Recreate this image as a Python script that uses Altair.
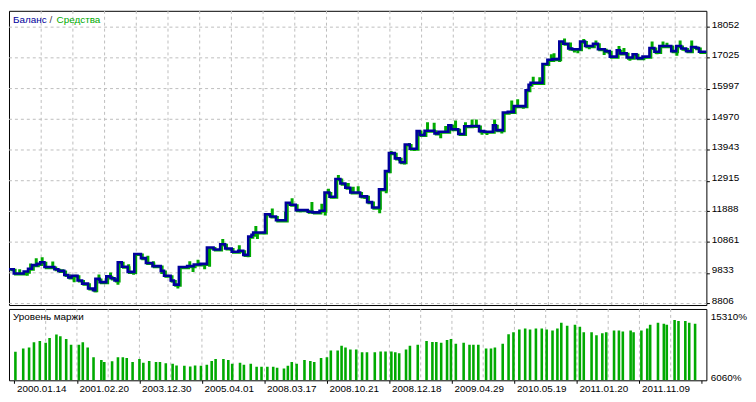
import altair as alt
import pandas as pd

# ---------------- data ----------------
# balance curve (trade index, balance)
bal_x = [0.3, 5.3, 15.3, 19.7, 23.7, 28.7, 32, 36.3, 46.3, 50.3, 56.3, 60.3, 63.7, 69.7, 74.3, 80.3,
         85.3, 87.7, 92, 98.7, 103, 107, 110.3, 114.3, 120.3, 127, 133.7, 138.7, 145.3, 153.7, 157,
         163.7, 167, 172, 180.3, 187, 193.7, 200.3, 207, 213.7, 218.7, 225.3, 232, 237, 242, 245.3,
         247, 259, 264, 270, 280, 284, 290, 302, 307, 314, 319, 324, 330, 335, 340, 345, 355, 362,
         367, 374, 380, 384, 390, 395, 400, 405, 412, 415, 420, 430, 434, 444, 447, 454, 460, 467,
         475, 480, 489, 492, 499, 504, 510, 522, 525, 527, 539, 544, 549, 556, 560, 565, 569, 577,
         582, 590, 595, 602, 607, 614, 617, 624, 630, 634, 640, 647, 652, 657, 669, 674, 679, 684,
         689, 694, 697, 705]
bal_v = [9952, 9811, 9875, 9971, 10090, 10132, 10187, 10026, 9952, 9898, 9760, 9682, 9737, 9577,
         9471, 9310, 9256, 9631, 9522, 9715, 9650, 9577, 10187, 10036, 9865, 10466, 10325, 10164,
         10058, 9898, 9737, 9577, 9438, 10026, 10058, 10113, 10132, 10678, 10614, 10787, 10646,
         10540, 10572, 10434, 11044, 11108, 11182, 11792, 11718, 11590, 12177, 12113, 11930, 11878,
         11856, 11911, 12521, 12379, 12970, 12819, 12681, 12521, 12392, 12199, 12016, 12626, 13236,
         13837, 13663, 13535, 14126, 13984, 14575, 14447, 14585, 14498, 14553, 14768, 14639, 14479,
         14736, 14745, 14575, 14553, 14768, 14607, 15195, 15217, 15410, 15943, 16126, 16190, 16822,
         16960, 16983, 17570, 17497, 17336, 17314, 17570, 17420, 17497, 17314, 17249, 17066, 17282,
         17176, 17034, 17143, 17015, 17066, 17355, 17227, 17420, 17249, 17420, 17336, 17249, 17387,
         17355, 17227, 17227]

# equity excursions (trade index, equity)
eq_x = [10.3, 18, 21.3, 27, 33, 43.7, 53.7, 60.3, 65.3, 67, 77, 87, 90.3, 97, 102, 109.5, 112,
        120.3, 125.3, 130.3, 139.7, 145.3, 153.7, 158.7, 163.7, 170, 182, 185.3, 190.3, 197, 202,
        215.3, 223.7, 232, 241, 248.7, 250.3, 257, 265.3, 272, 278.7, 285.3, 293.7, 302, 305.3,
        315.3, 318.7, 322, 327, 332, 335.3, 342, 347, 352, 358.7, 363.7, 373.7, 377, 380.3, 385.3,
        393.7, 398.7, 403.7, 408.7, 418.7, 422, 428.7, 435.3, 440.3, 450.3, 455.3, 460.3, 467,
        471.3, 477, 482, 489.7, 497, 507, 513, 518.7, 528.7, 535.3, 547, 549.7, 555.3, 560.3, 566.3,
        570.3, 573.7, 579.7, 585.3, 592, 600.3, 605.3, 615.3, 620.3, 626.3, 630.3, 637, 642, 648.7,
        653.7, 659.7, 663.7, 668.7, 673.7, 677, 682, 688.7, 693.7, 703.7]
eq_v = [9952, 9737, 10145, 10325, 10357, 10209, 9952, 9641, 9522, 9769, 9416, 9182, 9779, 9480,
        9843, 9438, 10219, 10122, 9769, 10485, 10402, 10219, 9792, 9682, 9522, 9310, 10219, 9865,
        10273, 9952, 10036, 10967, 10572, 10755, 10357, 11397, 10967, 11127, 11984, 11535, 11878,
        12328, 11856, 11824, 12199, 12145, 11750, 12649, 12328, 13108, 12893, 12842, 12713, 12732,
        12305, 12145, 11824, 12626, 12498, 13911, 13567, 13461, 14177, 13911, 14530, 14874, 14851,
        14338, 14745, 14928, 14447, 14874, 14960, 14960, 14456, 14447, 14960, 14498, 15602, 15644,
        15323, 16392, 16373, 17143, 17176, 16887, 17676, 17538, 17208, 17176, 17657, 17314, 17603,
        17121, 17143, 17420, 17355, 16928, 17121, 16960, 17015, 17570, 17143, 17570, 17529, 17217,
        17099, 17603, 17249, 17603, 17282, 17176]

# margin level bars (trade index, %)
ml_x = [2, 10, 16, 21, 27, 33, 37, 44, 48, 54, 59, 67, 71, 76, 82, 90, 93, 101, 107, 112, 116, 122,
        129, 133, 139, 146, 150, 156, 163, 167, 175, 181, 186, 192, 198, 203, 207, 215, 220, 224,
        232, 236, 243, 249, 254, 260, 266, 270, 277, 281, 285, 290, 298, 304, 308, 315, 321, 325,
        332, 336, 340, 345, 351, 357, 362, 370, 376, 381, 387, 391, 395, 402, 406, 414, 423, 429,
        433, 438, 444, 448, 453, 461, 467, 471, 476, 484, 489, 493, 501, 507, 512, 518, 524, 529,
        535, 541, 546, 552, 557, 561, 567, 575, 580, 584, 592, 597, 603, 607, 615, 620, 624, 632,
        635, 643, 649, 652, 660, 666, 669, 677, 681, 688, 692, 698]
ml_v = [10444, 10926, 11072, 11905, 12095, 11803, 12534, 13074, 12826, 12387, 11511, 11511, 11905,
        11072, 9611, 9173, 8880, 8983, 9611, 9611, 9465, 8880, 9319, 8734, 9026, 8880, 8880, 8690,
        8588, 8340, 8296, 8193, 8340, 8296, 8442, 9026, 9319, 9319, 9173, 8588, 8734, 8442, 8588,
        8150, 8150, 8150, 8150, 8004, 7857, 8296, 8880, 8588, 9173, 9026, 8880, 9465, 9611, 10634,
        10634, 11365, 11072, 10780, 10780, 10342, 10342, 10342, 10488, 10488, 10488, 10342, 10196,
        10780, 11365, 11511, 12095, 11949, 11949, 11803, 12241, 12387, 11657, 11803, 11511, 11511,
        11511, 10926, 10926, 11072, 11657, 13118, 13410, 13849, 13995, 13849, 13995, 13995, 13849,
        13703, 13995, 14872, 14433, 14579, 14287, 13410, 13410, 12972, 13264, 13410, 13703, 13703,
        13557, 13703, 13410, 13703, 13995, 14579, 14872, 14726, 14579, 15310, 15164, 15164, 14872,
        14726]

y_ticks = [8806, 9833, 10861, 11888, 12915, 13943, 14970, 15997, 17025, 18052]
ml_ticks = [6060, 15310]
date_labels = ['2000.01.14', '2001.02.20', '2003.12.30', '2005.04.01', '2008.03.17', '2008.10.21',
               '2008.12.18', '2009.04.29', '2010.05.19', '2011.01.20', '2011.11.09']
grid_x = list(range(1, 706, 32))

# ---------------- styling ----------------
FONT = "Liberation Sans"
BLUE = "#00009C"
GREEN = "#00AA00"
BAR_GREEN = "#00AA00"
GRID = "#BDBDBD"
W, H1, H2 = 704, 297, 72

bal = pd.DataFrame({"x": [float(v) for v in bal_x], "v": bal_v})
eq = pd.DataFrame({"x": [float(v) for v in eq_x], "v": eq_v}).sort_values("x")
eq = pd.merge_asof(eq, bal.rename(columns={"v": "base"}), on="x", direction="backward")
ml = pd.DataFrame({"x": ml_x, "v": ml_v})

xs = alt.Scale(domain=[0.5, 704.5], nice=False, zero=False)
ys_main = alt.Scale(domain=[8756.29, 18598.8], nice=False, zero=False)
ys_low = alt.Scale(domain=[6060, 16990], nice=False, zero=False)

x_main_axis = alt.Axis(values=grid_x, labels=False, ticks=False, domain=False, grid=False, title=None)
y_main_axis = alt.Axis(orient="right", values=y_ticks, format="d", grid=False,
                       domain=False, tickSize=3, tickColor="black",
                       labelFontSize=10, labelBaseline="alphabetic", labelPadding=2,
                       labelColor="black", labelFont=FONT, title=None)

labels_js = "[" + ",".join("'%s'" % d for d in date_labels) + "]"
x_low_axis = alt.Axis(values=grid_x, grid=False,
                      domain=False, tickSize=3, tickColor="black",
                      tickOpacity={"condition": {"test": "(datum.value - 1) % 64 == 0", "value": 1}, "value": 0},
                      labelExpr="(datum.value - 1) % 64 == 0 && datum.value < 700 ? " + labels_js
                                + "[(datum.value - 1) / 64] : ''",
                      labelAlign="left", labelOffset=2, labelPadding=0, labelOverlap=False,
                      labelFlush=False, labelBaseline="top", labelFontSize=10, labelColor="black",
                      labelFont=FONT, title=None)
y_low_axis = alt.Axis(orient="right", values=ml_ticks, labelExpr="datum.value + '%'", grid=False,
                      domain=False, ticks=False, labelPadding=4, labelBaseline="alphabetic",
                      labelFontSize=10, labelColor="black", labelFont=FONT, title=None)

vgrid_df = pd.DataFrame({"gx": grid_x[1:-1]})
hgrid_df = pd.DataFrame({"gy": y_ticks})


def vgrid(height, axis):
    return alt.Chart(vgrid_df).mark_rule(stroke=GRID, strokeDash=[3, 3], strokeWidth=1).encode(
        x=alt.X("gx:Q", scale=xs, axis=axis), y=alt.value(0), y2=alt.value(height))


hgrid_main = alt.Chart(hgrid_df).mark_rule(stroke=GRID, strokeDash=[3, 3], strokeWidth=1).encode(
    y=alt.Y("gy:Q", scale=ys_main, axis=y_main_axis), x=alt.value(0), x2=alt.value(W))

spikes = alt.Chart(eq).mark_rule(color=GREEN, strokeWidth=3, clip=True, xOffset=1).encode(
    x=alt.X("x:Q", scale=xs, axis=x_main_axis),
    y=alt.Y("base:Q", scale=ys_main, axis=y_main_axis),
    y2="v:Q",
)
eq_line = alt.Chart(bal).mark_line(color=GREEN, strokeWidth=2.6, interpolate="step-after", clip=True,
                                   xOffset=1.6, yOffset=0.8).encode(
    x=alt.X("x:Q", scale=xs, axis=x_main_axis),
    y=alt.Y("v:Q", scale=ys_main, axis=y_main_axis),
)
bal_line = alt.Chart(bal).mark_line(color=BLUE, strokeWidth=2.6, interpolate="step-after", clip=True).encode(
    x=alt.X("x:Q", scale=xs, axis=x_main_axis),
    y=alt.Y("v:Q", scale=ys_main, axis=y_main_axis),
)


def label(txt, color, xpos, ypos):
    return alt.Chart(pd.DataFrame({"t": [txt]})).mark_text(
        align="left", baseline="middle", color=color, fontSize=10, font=FONT
    ).encode(x=alt.value(xpos), y=alt.value(ypos), text="t:N")


main = alt.layer(
    vgrid(H1, x_main_axis), hgrid_main, spikes, eq_line, bal_line,
    label("Баланс", BLUE, 4, 9),
    label("/", "#404040", 41, 9),
    label("Средства", GREEN, 48, 9),
).properties(width=W, height=H1)

bars = alt.Chart(ml).mark_bar(color=BAR_GREEN, size=2.6, clip=True).encode(
    x=alt.X("x:Q", scale=xs, axis=x_low_axis),
    y=alt.Y("v:Q", scale=ys_low, axis=y_low_axis),
    y2=alt.datum(6060),
)
lower = alt.layer(vgrid(H2, x_low_axis), bars, label("Уровень маржи", "black", 4, 8)).properties(width=W, height=H2)

chart = alt.vconcat(main, lower, spacing=2).properties(padding=0, background="white").configure_view(
    stroke="black", strokeWidth=1
)

chart.save("out.html", embed_options={"renderer": "svg", "actions": False})
